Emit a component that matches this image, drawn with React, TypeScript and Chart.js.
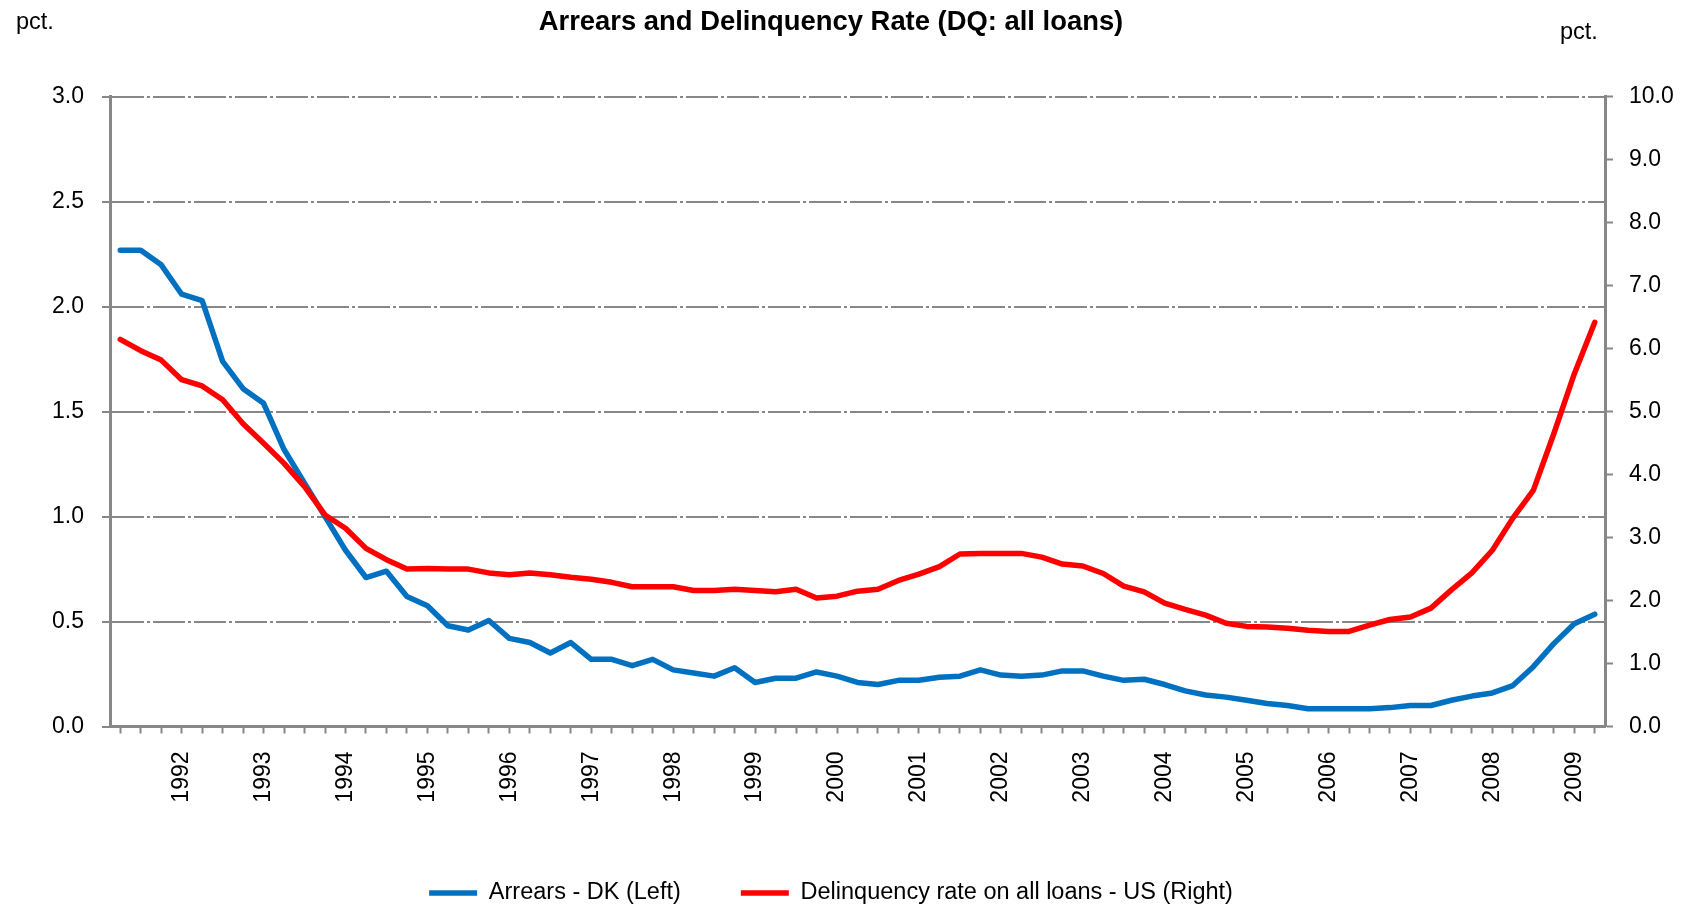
import React, { useEffect, useRef } from 'react';
import { Chart, registerables } from 'chart.js';

Chart.register(...registerables);

const TITLE = 'Arrears and Delinquency Rate (DQ: all loans)';
const UNIT_LEFT = 'pct.';
const UNIT_RIGHT = 'pct.';

const quarters = [
  '1991Q2', '1991Q3', '1991Q4',
  '1992Q1', '1992Q2', '1992Q3', '1992Q4',
  '1993Q1', '1993Q2', '1993Q3', '1993Q4',
  '1994Q1', '1994Q2', '1994Q3', '1994Q4',
  '1995Q1', '1995Q2', '1995Q3', '1995Q4',
  '1996Q1', '1996Q2', '1996Q3', '1996Q4',
  '1997Q1', '1997Q2', '1997Q3', '1997Q4',
  '1998Q1', '1998Q2', '1998Q3', '1998Q4',
  '1999Q1', '1999Q2', '1999Q3', '1999Q4',
  '2000Q1', '2000Q2', '2000Q3', '2000Q4',
  '2001Q1', '2001Q2', '2001Q3', '2001Q4',
  '2002Q1', '2002Q2', '2002Q3', '2002Q4',
  '2003Q1', '2003Q2', '2003Q3', '2003Q4',
  '2004Q1', '2004Q2', '2004Q3', '2004Q4',
  '2005Q1', '2005Q2', '2005Q3', '2005Q4',
  '2006Q1', '2006Q2', '2006Q3', '2006Q4',
  '2007Q1', '2007Q2', '2007Q3', '2007Q4',
  '2008Q1', '2008Q2', '2008Q3', '2008Q4',
  '2009Q1', '2009Q2',
];

// Arrears - DK (left axis, pct.)
const arrearsDK = [
  2.27, 2.27, 2.20, 2.06, 2.03, 1.74, 1.61, 1.54, 1.32, 1.16,
  1.00, 0.84, 0.71, 0.74, 0.62, 0.575, 0.48, 0.46, 0.505, 0.42,
  0.40, 0.35, 0.40, 0.32, 0.32, 0.29, 0.32, 0.27, 0.255, 0.24,
  0.28, 0.21, 0.23, 0.23, 0.26, 0.24, 0.21, 0.20, 0.22, 0.22,
  0.235, 0.24, 0.27, 0.245, 0.24, 0.245, 0.265, 0.265, 0.24, 0.22,
  0.225, 0.20, 0.17, 0.15, 0.14, 0.125, 0.11, 0.10, 0.085, 0.085,
  0.085, 0.085, 0.09, 0.10, 0.10, 0.125, 0.145, 0.16, 0.195, 0.285,
  0.395, 0.49, 0.535,
];

// Delinquency rate on all loans - US (right axis, pct.)
const delinquencyUS = [
  6.15, 5.97, 5.82, 5.51, 5.41, 5.19, 4.81, 4.50, 4.18, 3.81,
  3.36, 3.15, 2.83, 2.65, 2.50, 2.51, 2.50, 2.50, 2.44, 2.41,
  2.44, 2.41, 2.37, 2.34, 2.29, 2.22, 2.22, 2.22, 2.16, 2.16,
  2.18, 2.16, 2.14, 2.18, 2.04, 2.07, 2.15, 2.18, 2.32, 2.42,
  2.54, 2.74, 2.75, 2.75, 2.75, 2.69, 2.58, 2.55, 2.43, 2.23,
  2.14, 1.96, 1.86, 1.77, 1.64, 1.59, 1.58, 1.56, 1.53, 1.51,
  1.51, 1.61, 1.70, 1.74, 1.88, 2.17, 2.44, 2.80, 3.31, 3.75,
  4.65, 5.60, 6.42,
];

const leftTickValues = [0, 0.5, 1.0, 1.5, 2.0, 2.5, 3.0];
const rightTickValues = [0, 1, 2, 3, 4, 5, 6, 7, 8, 9, 10];

const FONT = "'Liberation Sans', Arial, sans-serif";
const GRID = '#878787';
const GRID_DASH = [32, 3, 3, 3];

const unitPlugin = {
  id: 'unitLabels',
  afterDraw(chart: any) {
    const ctx = chart.ctx;
    ctx.save();
    ctx.fillStyle = '#000';
    ctx.font = `23.5px ${FONT}`;
    ctx.textAlign = 'left';
    ctx.textBaseline = 'alphabetic';
    ctx.fillText(UNIT_LEFT, 16, 29);
    ctx.fillText(UNIT_RIGHT, 1560, 39);
    ctx.restore();
  },
};

export default function App() {
  const canvasRef = useRef<HTMLCanvasElement | null>(null);

  useEffect(() => {
    if (!canvasRef.current) return;
    const chart = new Chart(canvasRef.current, {
      type: 'line',
      data: {
        labels: quarters,
        datasets: [
          {
            label: 'Arrears - DK (Left)',
            data: arrearsDK,
            yAxisID: 'y',
            borderColor: '#0070C0',
            backgroundColor: '#0070C0',
            borderWidth: 5.5,
            pointRadius: 0,
            tension: 0,
            borderJoinStyle: 'round',
            borderCapStyle: 'round',
            order: 1,
          },
          {
            label: 'Delinquency rate on all loans - US (Right)',
            data: delinquencyUS,
            yAxisID: 'y2',
            borderColor: '#FF0000',
            backgroundColor: '#FF0000',
            borderWidth: 5.5,
            pointRadius: 0,
            tension: 0,
            borderJoinStyle: 'round',
            borderCapStyle: 'round',
            order: 0,
          },
        ],
      },
      options: {
        responsive: true,
        maintainAspectRatio: false,
        animation: false,
        layout: { padding: { left: -29, right: 0, top: 0, bottom: -6.75 } },
        plugins: {
          title: {
            display: true,
            text: TITLE,
            color: '#000',
            font: { family: FONT, size: 27.4, weight: 'bold' },
            padding: { top: 6.1, bottom: 58.0 },
          },
          legend: {
            position: 'bottom',
            labels: {
              usePointStyle: true,
              pointStyle: 'line',
              pointStyleWidth: 48,
              padding: 60,
              color: '#000',
              font: { family: FONT, size: 23.5 },
              sort: (a: any, b: any) => a.datasetIndex - b.datasetIndex,
            },
          },
          tooltip: { enabled: false },
        },
        scales: {
          x: {
            type: 'category',
            offset: true,
            grid: {
              display: true,
              drawOnChartArea: false,
              drawTicks: true,
              tickLength: 7,
              tickColor: GRID,
              tickWidth: 2,
              color: GRID,
              offset: false,
            },
            border: { display: true, color: GRID, width: 3 },
            ticks: {
              autoSkip: false,
              maxRotation: 90,
              minRotation: 90,
              padding: 18,
              color: '#000',
              font: { family: FONT, size: 23 },
              callback: (_v: any, i: number) => {
                const q = quarters[i];
                return q && q.endsWith('Q1') ? q.slice(0, 4) : '';
              },
            },
            afterFit: (s: any) => {
              s.height = 94.75;
            },
          },
          y: {
            position: 'left',
            min: 0,
            max: 3,
            afterBuildTicks: (s: any) => {
              s.ticks = leftTickValues.map((v) => ({ value: v }));
            },
            ticks: {
              padding: 18,
              color: '#000',
              font: { family: FONT, size: 23 },
              callback: (v: any) => Number(v).toFixed(1),
            },
            grid: {
              color: GRID,
              lineWidth: 2,
              drawTicks: true,
              tickLength: 8,
              tickColor: GRID,
              tickWidth: 2,
              tickBorderDash: GRID_DASH,
            },
            border: { display: true, color: GRID, width: 3, dash: GRID_DASH },
            afterFit: (s: any) => {
              s.width = 139;
            },
          },
          y2: {
            position: 'right',
            min: 0,
            max: 10,
            afterBuildTicks: (s: any) => {
              s.ticks = rightTickValues.map((v) => ({ value: v }));
            },
            ticks: {
              padding: 16,
              color: '#000',
              font: { family: FONT, size: 23 },
              callback: (v: any) => Number(v).toFixed(1),
            },
            grid: {
              display: true,
              drawOnChartArea: false,
              drawTicks: true,
              tickLength: 8,
              tickColor: GRID,
              tickWidth: 2,
              color: GRID,
            },
            border: { display: true, color: GRID, width: 3 },
            afterFit: (s: any) => {
              s.width = 86;
            },
          },
        },
      },
      plugins: [unitPlugin],
    } as any);
    return () => chart.destroy();
  }, []);

  return (
    <div style={{ position: 'absolute', left: 0, top: 0, width: '1691px', height: '908px', background: '#fff' }}>
      <canvas ref={canvasRef} />
    </div>
  );
}
